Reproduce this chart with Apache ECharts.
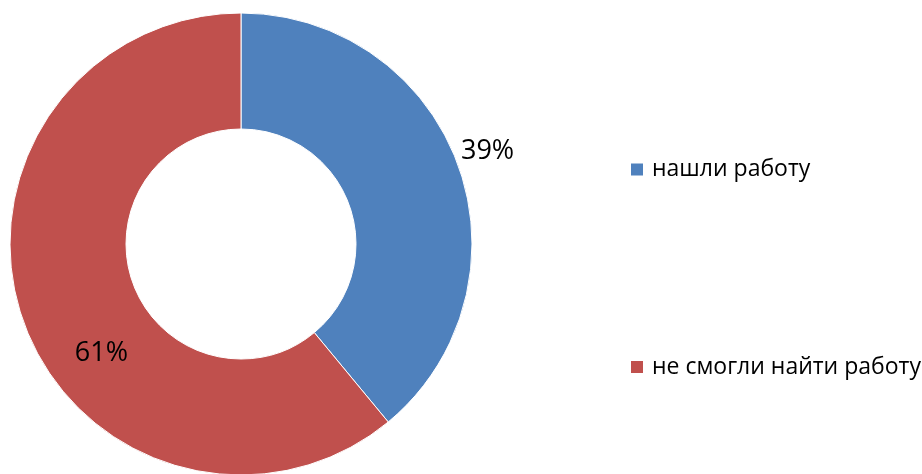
<!DOCTYPE html>
<html><head><meta charset="utf-8">
<script src="https://cdn.jsdelivr.net/npm/echarts@6/dist/echarts.min.js"></script>
<style>html,body{margin:0;padding:0;background:#fff}#c{width:922px;height:474px}</style>
</head><body><div id="c"></div>
<script>
const categories = ['нашли работу', 'не смогли найти работу'];
const values = [39, 61];
const colors = ['#4F81BD', '#C0504D'];
const labelOffsets = [[81, -33], [26, 50]];

const chart = echarts.init(document.getElementById('c'));
chart.setOption({
  animation: false,
  legend: {
    orient: 'vertical',
    left: 624,
    top: 153,
    itemWidth: 14,
    itemHeight: 14,
    itemGap: 174.5,
    icon: 'rect',
    textStyle: { fontFamily: 'Open Sans', fontSize: 23, color: '#000', lineHeight: 20, padding: [0,0,0,3] },
    data: categories
  },
  series: [{
    type: 'pie',
    center: [241, 244],
    radius: [115, 231],
    startAngle: 90,
    clockwise: true,
    avoidLabelOverlap: false,
    itemStyle: { borderColor: '#fff', borderWidth: 1 },
    label: {
      show: true,
      position: 'inside',
      formatter: '{d}%',
      fontFamily: 'Open Sans',
      fontSize: 27,
      color: '#000'
    },
    labelLine: { show: false },
    emphasis: { disabled: true },
    data: categories.map((n, i) => ({
      name: n, value: values[i],
      itemStyle: { color: colors[i] },
      label: { offset: labelOffsets[i] }
    }))
  }]
});
</script></body></html>
